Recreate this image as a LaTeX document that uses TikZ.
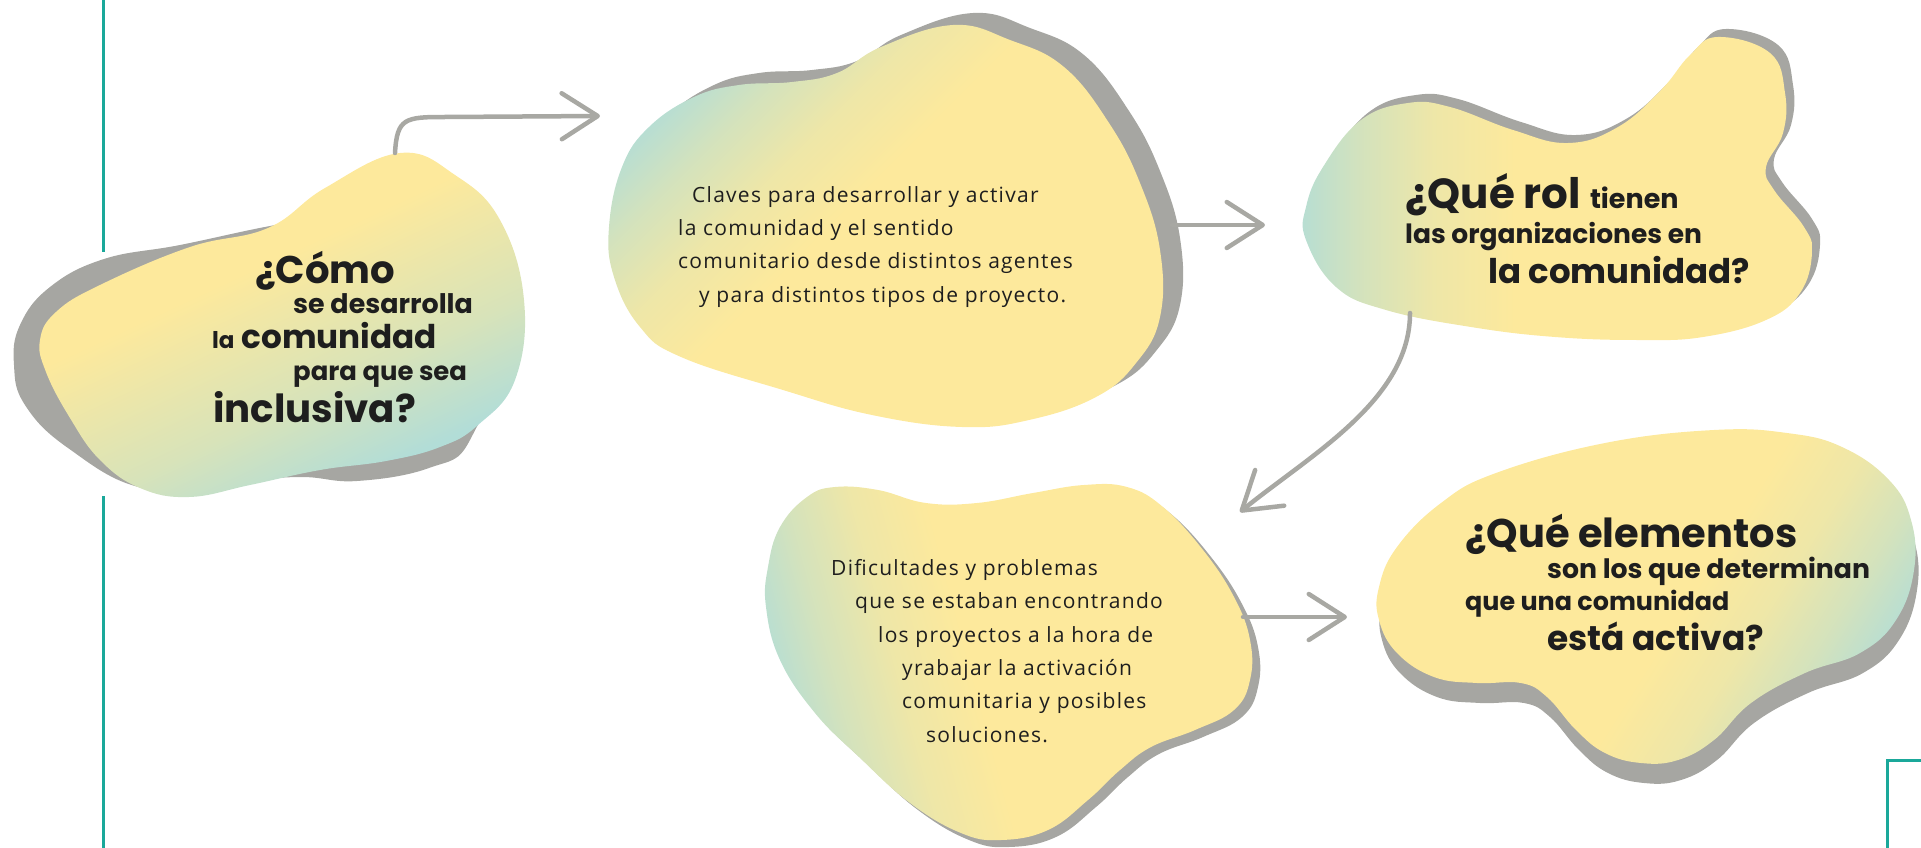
\documentclass[tikz,border=0pt]{standalone}
\usepackage{fontspec}
\usetikzlibrary{arrows.meta}
\newfontfamily\headfont{Poppins}
\newfontfamily\bodyfont{Open Sans}[LetterSpace=6]
\definecolor{butter}{HTML}{FDE99C}
\definecolor{mint}{HTML}{B2DDD7}
\definecolor{blobgray}{HTML}{A6A6A2}
\definecolor{arrowgray}{HTML}{A8A8A3}
\definecolor{rulecol}{HTML}{1AA89A}
\definecolor{ink}{HTML}{1E1E1E}
\pgfdeclarehorizontalshading{blobfade}{100bp}{color(0bp)=(mint); color(24bp)=(mint); color(31bp)=(mint!55!butter); color(38bp)=(mint!20!butter); color(46bp)=(butter); color(100bp)=(butter)}
\pgfdeclarehorizontalshading{blobfadewide}{100bp}{color(0bp)=(mint); color(28bp)=(mint); color(40bp)=(mint!50!butter); color(58bp)=(butter); color(100bp)=(butter)}

% blob outlines (pixel coordinates, y down)
\newcommand\blobA{plot[smooth cycle, tension=0.7] coordinates {(400,153) (455,175) (500,220) (524,300) (515,380) (478,425) (440,447) (386,461) (320,470) (250,485) (189,497) (140,488) (100,460) (70,418) (46,372) (40,340) (56,312) (100,285) (190,247) (268,228) (325,188)}}
\newcommand\blobAback{plot[smooth cycle, tension=0.7] coordinates {(270,226) (180,245) (104,259) (50,287) (20,325) (14,365) (25,405) (68,448) (143,488) (230,482) (300,477) (357,481) (429,468) (470,440) (490,350) (420,250) (340,215)}}
\newcommand\blobB{plot[smooth cycle, tension=0.7] coordinates {(953,25) (1010,40) (1064,67) (1109,123) (1140,183) (1160,250) (1160,317) (1136,363) (1096,397) (1029,420) (962,427) (872,415) (783,390) (681,357) (640,327) (614,277) (609,227) (622,167) (649,127) (694,97) (739,85) (792,82) (837,73) (881,47)}}
\newcommand\blobC{plot[smooth cycle, tension=0.7] coordinates {(1718,37) (1770,53) (1785,93) (1783,133) (1766,167) (1774,190) (1804,227) (1812,253) (1800,293) (1766,320) (1703,337) (1639,340) (1555,337) (1471,327) (1386,310) (1336,287) (1306,240) (1306,207) (1323,167) (1361,120) (1408,103) (1450,107) (1513,130) (1568,143) (1618,127) (1661,90) (1690,55)}}
\newcommand\blobD{plot[smooth cycle, tension=0.7] coordinates {(1127,487) (1163,507) (1203,550) (1234,597) (1250,640) (1250,680) (1234,710) (1195,730) (1151,747) (1120,770) (1088,800) (1048,830) (1001,840) (961,833) (910,803) (859,757) (815,713) (780,660) (766,607) (768,567) (780,527) (807,497) (835,487) (878,490) (926,503) (977,503) (1033,493) (1084,485)}}
\newcommand\blobE{plot[smooth cycle, tension=0.7] coordinates {(1714,430) (1605,443) (1496,473) (1441,503) (1397,547) (1379,587) (1379,620) (1397,653) (1434,677) (1477,683) (1521,683) (1547,697) (1576,730) (1605,753) (1641,763) (1678,760) (1714,740) (1751,703) (1805,673) (1860,653) (1896,620) (1914,570) (1911,520) (1889,480) (1842,447) (1787,433)}}

\begin{document}
\begin{tikzpicture}[
		x=1pt, y=-1pt,
		backblob/.style={fill=blobgray},
		blob/.style={shading=blobfade, shading angle=#1},
		head/.style={font=\headfont\bfseries\fontsize{#1}{#1}\selectfont, text=ink,
			anchor=base west, inner sep=0pt},
		body/.style={font=\bodyfont\fontsize{21}{21}\selectfont, text=ink,
			anchor=base west, inner sep=0pt},
		link/.style={draw=arrowgray, line width=4.5pt, line cap=round,
			-{Straight Barb[length=36pt, width=46pt, round]}},
		frame/.style={draw=rulecol, line width=3pt}
		]
		\useasboundingbox (0,0) rectangle (1921,848);

		% side rule and corner box
		\draw[frame] (103,0) -- (103,252);
		\draw[frame] (103,496) -- (103,860);
		\draw[frame] (1930,760) -- (1887,760) -- (1887,860);

		% blobs
		\fill[backblob] \blobAback;
		\shade[shading=blobfadewide, shading angle=115] \blobA;
		\fill[backblob, shift={(20,-12)}] \blobB;
		\shade[blob=-45] \blobB;
		\fill[backblob, shift={(8,-8)}] \blobC;
		\shade[blob=0] \blobC;
		\fill[backblob, shift={(8,7)}] \blobD;
		\shade[blob=15] \blobD;
		\fill[backblob, shift={(3,20)}] \blobE;
		\shade[blob=148] \blobE;

		% question 1
		\node[head=38.6] (q1a) at (255,283) {¿Cómo};
		\node[head=26.9] (q1b) at (293,313) {se desarrolla};
		\node[head=32.7] (q1c) at (212,348) {{\fontsize{23}{23}\selectfont la} comunidad};
		\node[head=25.9] (q1d) at (293,380) {para que sea};
		\node[head=38.7] (q1e) at (213,422) {inclusiva?};

		% claves
		\node[body] (cl1) at (692,202) {Claves para desarrollar y activar};
		\node[body] (cl2) at (678,235) {la comunidad y el sentido};
		\node[body] (cl3) at (678,268) {comunitario desde distintos agentes};
		\node[body] (cl4) at (699,302) {y para distintos tipos de proyecto.};

		% question 2
		\node[head=42] (q2a) at (1405,208) {¿Qué rol {\fontsize{27}{27}\selectfont tienen}};
		\node[head=26.5] (q2b) at (1405,243) {las organizaciones en};
		\node[head=34] (q2c) at (1488,283) {la comunidad?};

		% dificultades
		\node[body] (di1) at (831,575) {Dificultades y problemas};
		\node[body] (di2) at (855,608) {que se estaban encontrando};
		\node[body] (di3) at (878,642) {los proyectos a la hora de};
		\node[body] (di4) at (902,675) {yrabajar la activación};
		\node[body] (di5) at (902,708) {comunitaria y posibles};
		\node[body] (di6) at (926,742) {soluciones.};

		% question 3
		\node[head=40] (q3a) at (1465,547) {¿Qué elementos};
		\node[head=26.7] (q3b) at (1547,578) {son los que determinan};
		\node[head=25.4] (q3c) at (1465,610) {que una comunidad};
		\node[head=34.4] (q3d) at (1547,650) {está activa?};

		% arrow ends
		\coordinate (q1out) at (395,153);
		\coordinate (clin) at (600,116);
		\coordinate (clout) at (1172,225);
		\coordinate (q2in) at (1265,225);
		\coordinate (q2out) at (1410,313);
		\coordinate (diin) at (1240,512);
		\coordinate (diout) at (1243,617);
		\coordinate (q3in) at (1347,617);

		\draw[link] (q1out) .. controls (397,118) and (405,117) .. (445,117) -- (clin);
		\draw[link] (clout) -- (q2in);
		\draw[link] (q2out) .. controls (1410,400) and (1310,455) .. (diin);
		\draw[link] (diout) -- (q3in);
\end{tikzpicture}
\end{document}
